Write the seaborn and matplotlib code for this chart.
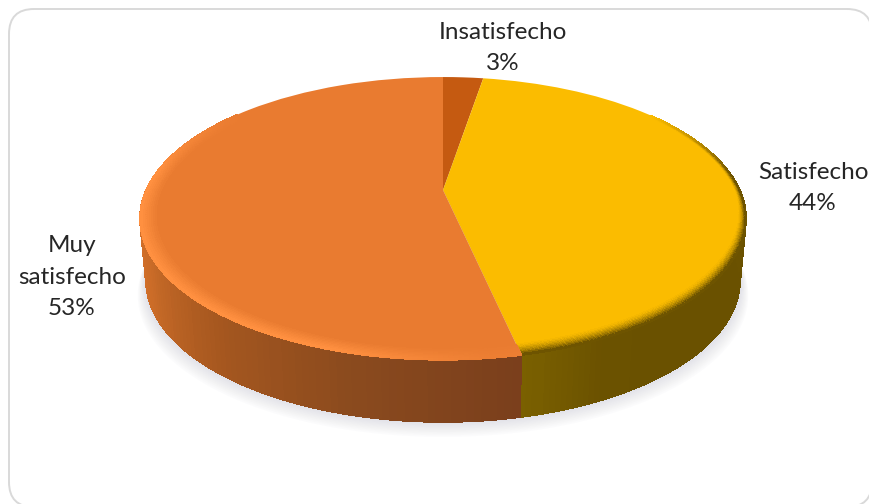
import numpy as np
import seaborn as sns
from matplotlib import pyplot as plt
from matplotlib.collections import PolyCollection
from matplotlib.colors import to_rgb
from matplotlib.patches import FancyBboxPatch
from matplotlib.transforms import Transform

categories = ["Insatisfecho", "Satisfecho", "Muy satisfecho"]
shares = [2.6, 44.0, 53.4]
pct_labels = ["3%", "44%", "53%"]
label_lines = [["Insatisfecho"], ["Satisfecho"], ["Muy", "satisfecho"]]
top_colors = ["#C55A11", "#FBBC00", "#E97B30"]

CX, CY = 443, 190
R, S, K = 296.8, 135.7, 0.2013
DEPTH = 62


def project(u, v):
    # tilted disc: unit circle goes to the top ellipse, far side shrinks
    w = 1 + K * v
    return CX + R * u / w, CY - S * v / w


class Tilt(Transform):
    input_dims = 2
    output_dims = 2

    def transform_non_affine(self, values):
        x, y = project(values[:, 0], values[:, 1])
        return np.column_stack([x, y])


def rim_point(theta, r=1.0):
    t = np.radians(theta)
    return project(r * np.cos(t), r * np.sin(t))


def lower_rim(theta):
    x, y = rim_point(theta)
    return CX + 0.98 * (x - CX), y + DEPTH


def quad(p0, p1, p2, p3):
    return [p0, p1, p2, p3]


sns.set_theme(style="white")
plt.rcParams["font.family"] = ["Lato", "DejaVu Sans"]

fig = plt.figure(figsize=(8.7, 5.04), dpi=100)
ax = fig.add_axes([0, 0, 1, 1])

wedges, _ = ax.pie(shares, colors=top_colors, startangle=90, counterclock=False,
                   wedgeprops={"linewidth": 0})
ax.set_aspect("auto")
ax.set_xlim(0, 870)
ax.set_ylim(504, 0)
tilt = Tilt()
for wedge in wedges:
    wedge.set_transform(tilt + ax.transData)
    wedge.set_zorder(5)

# frame of the chart area, runs off the right and bottom edges
ax.add_patch(FancyBboxPatch((9, 9), 863, 498, boxstyle="round,pad=0,rounding_size=25",
                            fc="white", ec="#D9D9D9", lw=1.4, zorder=0, clip_on=True))

# soft shadow under the disc
angles = np.linspace(0, 360, 240)
lx, ly = lower_rim(angles)
for i in range(10):
    grow = 1 + 0.0028 * (i + 1)
    ax.fill(CX + grow * (lx - CX), ly + 1.6 * (i + 1) - 1, color="#A8A8BC", alpha=0.035, lw=0, zorder=1)

# side wall, one thin strip per step of angle, ramps run left to right
wall_ramps = {
    1: sns.blend_palette(["#7A6000", "#6B5200", "#6A5100", "#6A5100", "#6A5100", "#6A5100", "#6C5300"], 100),
    2: sns.blend_palette(["#DE742B", "#CB6C28", "#A5571F", "#8A4A1E", "#7A3F1C"], 100),
}
for idx, ramp in wall_ramps.items():
    wedge = wedges[idx]
    steps = np.linspace(wedge.theta1, wedge.theta2, 160)
    steps = steps[np.sin(np.radians(steps)) <= 0.04]
    polys, colors = [], []
    for a, b in zip(steps[:-1], steps[1:]):
        polys.append(quad(rim_point(a), rim_point(b), lower_rim(b), lower_rim(a)))
        frac = (a - steps[0]) / (steps[-1] - steps[0])
        colors.append(ramp[int(np.clip(frac, 0, 0.999) * 100)])
    ax.add_collection(PolyCollection(polys, facecolors=colors, edgecolors=colors, lw=0.6,
                                     antialiaseds=False, zorder=3))

# bevel around the front of the top face
bevel_colors = {1: "#6E5400", 2: "#FF9040"}
for idx, edge_color in bevel_colors.items():
    wedge = wedges[idx]
    steps = np.linspace(wedge.theta1, wedge.theta2, 240)
    base = np.array(to_rgb(top_colors[idx]))
    edge = np.array(to_rgb(edge_color))
    polys, colors = [], []
    for a, b in zip(steps[:-1], steps[1:]):
        mid = np.sin(np.radians(0.5 * (a + b)))
        strength = np.clip((0.62 - mid) / 0.5, 0, 1)
        if idx == 1:
            # dark edge is thin at the side and wide at the front
            width = 0.014 + 0.04 * max(0, -mid)
        else:
            width = 0.05
            # orange lip fades out toward the slice boundary at the front
            strength *= np.clip((wedge.theta2 - b) / 30, 0.15, 1)
        if strength == 0:
            continue
        radii = np.linspace(1 - width, 1, 9)
        for r0, r1 in zip(radii[:-1], radii[1:]):
            frac = (r1 - radii[0]) / (radii[-1] - radii[0])
            if idx == 1:
                frac = frac ** 1.6
            polys.append(quad(rim_point(a, r0), rim_point(b, r0), rim_point(b, r1), rim_point(a, r1)))
            colors.append(tuple(base + (edge - base) * frac * strength))
    ax.add_collection(PolyCollection(polys, facecolors=colors, edgecolors=colors, lw=0.4,
                                     antialiaseds=False, zorder=6))

label_pos = [(503, 48), (813, 188), (72, 277)]
for lines, pct, (x, y) in zip(label_lines, pct_labels, label_pos):
    ax.text(x, y, "\n".join(lines + [pct]), ha="center", va="center", fontsize=17.5,
            color="#262626", linespacing=1.62, zorder=8)

fig.savefig("out.png", dpi=100)
